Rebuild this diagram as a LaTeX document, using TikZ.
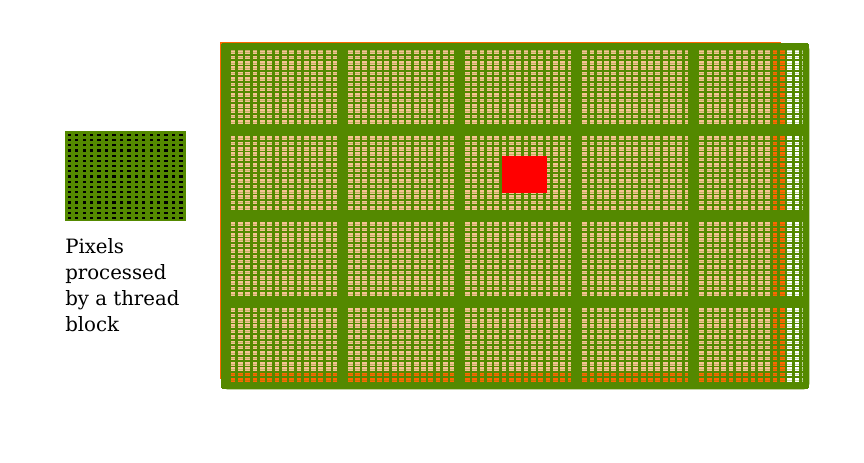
\documentclass[tikz,border=0pt]{standalone}
\usepackage{fontspec}
\setmainfont{DejaVu Serif}
\definecolor{gr}{RGB}{84,137,0}
\definecolor{peach}{RGB}{247,196,148}
\definecolor{org}{RGB}{255,102,0}
\begin{document}
\begin{tikzpicture}[x=0.75pt,y=-0.75pt,
  vline/.style={gr, line width=1.9pt},
  hline/.style={gr, line width=1.4pt},
  midline/.style={gr, line width=0.35pt, opacity=0.3},
  blockline/.style={gr, line width=6.6pt},
  label/.style={anchor=north west, inner sep=0pt, align=left, font=\fontsize{14.8}{19.5}\selectfont}]
\useasboundingbox (0,0) rectangle (864,463);
\def\cw{7.325}\def\ch{5.375}
% picture outline
\draw[org, line width=1.1pt] (220.8,42.5) rectangle (780,378);
% backgrounds
\fill[white] (222,44) rectangle (808,388);
\fill[peach] (222,44) rectangle (786,382.6);
\fill[org] (222,44) rectangle (786,49.4);
\fill[org] (222,371.9) rectangle (786,382.6);
\fill[org] (771.4,44) rectangle (786,382.6);
% pixel grid
\foreach \j in {0,...,63} \draw[midline] (222,{44+(\j+0.5)*\ch}) -- (808,{44+(\j+0.5)*\ch});
\foreach \i in {0,...,80} \draw[vline] ({222+\i*\cw},44) -- ({222+\i*\cw},388);
\foreach \j in {0,...,64} \draw[hline] (222,{44+\j*\ch}) -- (808,{44+\j*\ch});
% thread blocks
\foreach \k in {1,...,4} \draw[blockline] ({224+117.2*\k},44) -- ({224+117.2*\k},388);
\foreach \k in {1,...,3} \draw[blockline] (222,{44+86*\k}) -- (808,{44+86*\k});
\draw[gr, line width=5pt, rounded corners=2pt] (225,47) rectangle (806,386);
% red region
\fill[red] (502,156) rectangle (547,193);
% legend block
\node[draw=gr, fill=gr, line width=1pt, minimum width=120pt*0.75, minimum height=89pt*0.75, inner sep=0pt, anchor=north west] (legend) at (65,131) {};
\foreach \i in {0,...,15} \foreach \j in {0,...,16}
  \fill[black] ({67.6+\i*7.45},{133.8+\j*5.2}) rectangle ++(3.3,2.2);
\node[label] (txt) at (65,238) {Pixels\\processed\\by a thread\\block};
\end{tikzpicture}
\end{document}
